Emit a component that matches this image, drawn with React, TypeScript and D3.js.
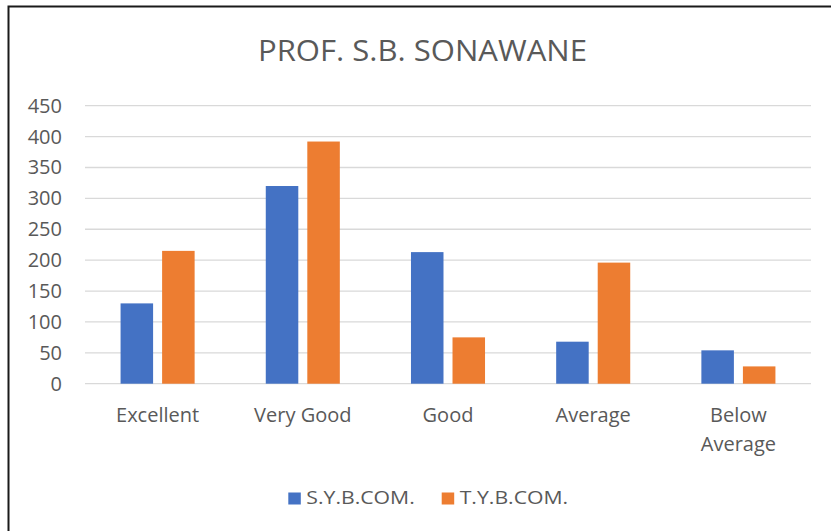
import * as d3 from "d3";

const categories = ["Excellent", "Very Good", "Good", "Average", "Below Average"];
const seriesNames = ["S.Y.B.COM.", "T.Y.B.COM."];
const sybcom = [130, 320, 213, 68, 54];
const tybcom = [215, 392, 75, 196, 28];
const yTicks = [0, 50, 100, 150, 200, 250, 300, 350, 400, 450];
const colors = ["#4472c4", "#ed7d31"];

const width = 831;
const height = 531;
const font = "'Open Sans', sans-serif";
const textColor = "#595959";

function App() {
  const values = [sybcom, tybcom];

  const x = d3
    .scaleBand()
    .domain(categories)
    .range([85, 811])
    .paddingInner(0.49)
    .paddingOuter(0.245);

  const xInner = d3
    .scaleBand()
    .domain(seriesNames)
    .range([0, x.bandwidth()])
    .paddingInner(0.217);

  const y = d3.scaleLinear().domain([0, 450]).range([383.7, 105.7]);

  return (
    <div style={{ position: "absolute", left: 0, top: 0 }}>
      <svg width={width} height={height} viewBox={`0 0 ${width} ${height}`}>
        <rect x={0} y={0} width={width} height={height} fill="#fff" />
        <rect
          x={8.5}
          y={6.5}
          width={900}
          height={600}
          fill="none"
          stroke="#1a1a1a"
          strokeWidth={2}
        />

        <text
          x={422.5}
          y={61}
          textAnchor="middle"
          fontFamily={font}
          fontSize={30}
          fill={textColor}
          textLength={329}
          lengthAdjust="spacingAndGlyphs"
        >
          PROF. S.B. SONAWANE
        </text>

        {/* gridlines + y labels */}
        {yTicks.map((t) => (
          <g key={t}>
            <line
              x1={85}
              x2={811}
              y1={y(t)}
              y2={y(t)}
              stroke="#d9d9d9"
              strokeWidth={1.3}
            />
            <text
              x={62}
              y={y(t) + 7}
              textAnchor="end"
              fontFamily={font}
              fontSize={20}
              fill={textColor}
            >
              {t}
            </text>
          </g>
        ))}

        {/* bars */}
        {categories.map((c, i) => (
          <g key={c} transform={`translate(${x(c)},0)`}>
            {seriesNames.map((s, j) => (
              <rect
                key={s}
                x={xInner(s)}
                y={y(values[j][i])}
                width={xInner.bandwidth()}
                height={y(0) - y(values[j][i])}
                fill={colors[j]}
              />
            ))}
          </g>
        ))}

        {/* x labels */}
        {categories.map((c) => {
          const cx = (x(c) ?? 0) + x.bandwidth() / 2;
          const words = c === "Below Average" ? ["Below", "Average"] : [c];
          return (
            <text
              key={c}
              x={cx}
              y={421.7}
              textAnchor="middle"
              fontFamily={font}
              fontSize={20}
              fill={textColor}
            >
              {words.map((w, k) => (
                <tspan key={w} x={cx} dy={k === 0 ? 0 : 29}>
                  {w}
                </tspan>
              ))}
            </text>
          );
        })}

        {/* legend */}
        {seriesNames.map((s, j) => {
          const lx = [288.3, 441.7][j];
          const tw = [108.5, 108.5][j];
          return (
            <g key={s}>
              <rect x={lx} y={492.5} width={12.5} height={12} fill={colors[j]} />
              <text
                x={lx + 18}
                y={504.3}
                fontFamily={font}
                fontSize={19}
                fill={textColor}
                textLength={tw}
                lengthAdjust="spacingAndGlyphs"
              >
                {s}
              </text>
            </g>
          );
        })}
      </svg>
    </div>
  );
}

export default App;
